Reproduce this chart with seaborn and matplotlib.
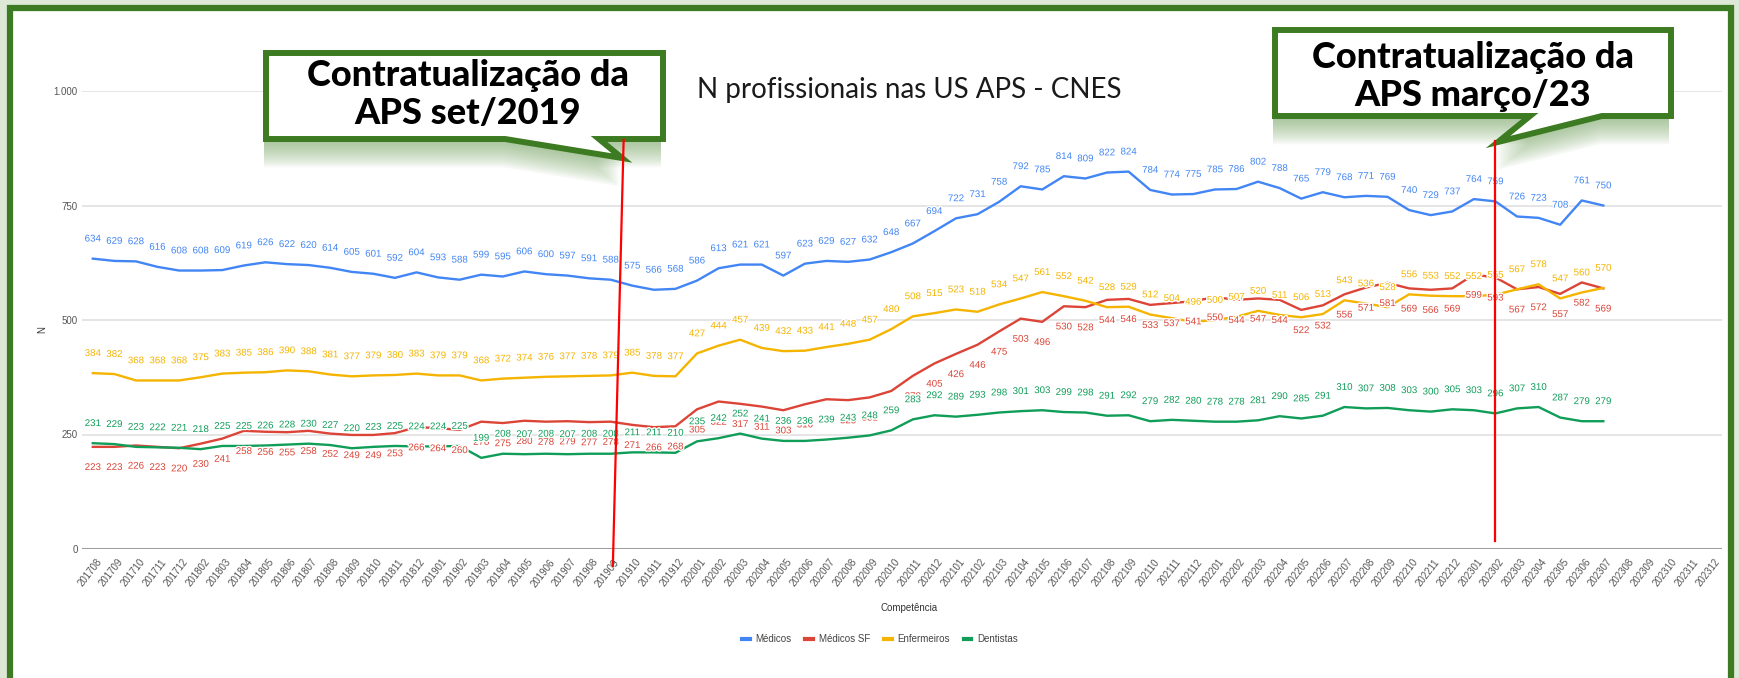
import matplotlib
matplotlib.use("Agg")
import matplotlib.pyplot as plt
import matplotlib.patheffects as pe
from matplotlib.patches import Rectangle, Polygon
from matplotlib.lines import Line2D
from matplotlib.transforms import ScaledTranslation
import pandas as pd
import seaborn as sns

# ── Data ─────────────────────────────────────────────────────────────────────
months = [
    "201708", "201709", "201710", "201711", "201712",
    "201802", "201803", "201804", "201805", "201806", "201807", "201808",
    "201809", "201810", "201811", "201812",
    "201901", "201902", "201903", "201904", "201905", "201906",
    "201907", "201908", "201909", "201910", "201911", "201912",
    "202001", "202002", "202003", "202004", "202005", "202006",
    "202007", "202008", "202009", "202010", "202011", "202012",
    "202101", "202102", "202103", "202104", "202105", "202106",
    "202107", "202108", "202109", "202110", "202111", "202112",
    "202201", "202202", "202203", "202204", "202205", "202206",
    "202207", "202208", "202209", "202210", "202211", "202212",
    "202301", "202302", "202303", "202304", "202305", "202306",
    "202307", "202308", "202309", "202310", "202311", "202312",
]

medicos = [634, 629, 628, 616, 608, 608, 609, 619, 626, 622, 620, 614,
           605, 601, 592, 604, 593, 588, 599, 595, 606, 600, 597, 591,
           588, 575, 566, 568, 586, 613, 621, 621, 597, 623, 629, 627,
           632, 648, 667, 694, 722, 731, 758, 792, 785, 814, 809, 822,
           824, 784, 774, 775, 785, 786, 802, 788, 765, 779, 768, 771,
           769, 740, 729, 737, 764, 759, 726, 723, 708, 761, 750]

medicos_sf = [223, 223, 226, 223, 220, 230, 241, 258, 256, 255, 258, 252,
              249, 249, 253, 266, 264, 260, 278, 275, 280, 278, 279, 277,
              278, 271, 266, 268, 305, 322, 317, 311, 303, 316, 327, 325,
              331, 345, 378, 405, 426, 446, 475, 503, 496, 530, 528, 544,
              546, 533, 537, 541, 550, 544, 547, 544, 522, 532, 556, 571,
              581, 569, 566, 569, 599, 593, 567, 572, 557, 582, 569]

enfermeiros = [384, 382, 368, 368, 368, 375, 383, 385, 386, 390, 388, 381,
               377, 379, 380, 383, 379, 379, 368, 372, 374, 376, 377, 378,
               379, 385, 378, 377, 427, 444, 457, 439, 432, 433, 441, 448,
               457, 480, 508, 515, 523, 518, 534, 547, 561, 552, 542, 528,
               529, 512, 504, 496, 500, 507, 520, 511, 506, 513, 543, 536,
               528, 556, 553, 552, 552, 555, 567, 578, 547, 560, 570]

dentistas = [231, 229, 223, 222, 221, 218, 225, 225, 226, 228, 230, 227,
             220, 223, 225, 224, 224, 225, 199, 208, 207, 208, 207, 208,
             208, 211, 211, 210, 235, 242, 252, 241, 236, 236, 239, 243,
             248, 259, 283, 292, 289, 293, 298, 301, 303, 299, 298, 291,
             292, 279, 282, 280, 278, 278, 281, 290, 285, 291, 310, 307,
             308, 303, 300, 305, 303, 296, 307, 310, 287, 279, 279]

series_names = ["Médicos", "Médicos SF", "Enfermeiros", "Dentistas"]
series_colors = ["#4285F4", "#DB4437", "#F4B400", "#0F9D58"]
y_ticks = [0, 250, 500, 750, 1000]
y_ticklabels = ["0", "250", "500", "750", "1.000"]
marks = ["201909", "202302"]

W, H = 1739, 678
GREEN = "#3d7b22"
plt.rcParams["font.family"] = ["Liberation Sans Narrow", "Liberation Sans", "DejaVu Sans"]

wide = pd.DataFrame({name: vals for name, vals in
                     zip(series_names, [medicos, medicos_sf, enfermeiros, dentistas])})
wide["idx"] = range(len(wide))
df = wide.melt(id_vars="idx", var_name="serie", value_name="n")

fig = plt.figure(figsize=(W / 100, H / 100), dpi=100)
fig.patch.set_facecolor("#dde8d6")

# background frame
bg = fig.add_axes([0, 0, 1, 1], zorder=0)
bg.set_xlim(0, W); bg.set_ylim(H, 0); bg.axis("off")
bg.add_patch(Rectangle((10, 8), 1721, 720, facecolor="white", edgecolor=GREEN, lw=4.5))

# ── Chart ─────────────────────────────────────────────────────────────────────
ax = fig.add_axes([82 / W, 1 - 549 / H, (1722 - 82) / W, (549 - 91) / H], zorder=1)
ax.patch.set_alpha(0)
sns.lineplot(data=df, x="idx", y="n", hue="serie", hue_order=series_names,
             palette=series_colors, linewidth=1.7, legend=False, sort=False, ax=ax, zorder=3)

for name, color in zip(series_names, series_colors):
    vals = wide[name]
    dy = -14.5 if name == "Médicos SF" else 14.5
    for i, v in enumerate(vals):
        ax.annotate(str(v), (i, v), xytext=(0, dy), textcoords="offset points",
                    ha="center", va="center", fontsize=7, color=color, zorder=5,
                    path_effects=[pe.withStroke(linewidth=2, foreground="white")])

ax.set_xlim(-0.5, len(months) - 0.5)
ax.set_ylim(0, 1000)
ax.set_yticks(y_ticks)
ax.set_yticklabels(y_ticklabels)
ax.set_xticks(range(len(months)))
ax.set_xticklabels(months, rotation=52, ha="right", va="center", rotation_mode="anchor")
ax.tick_params(axis="both", length=0, labelsize=7, labelcolor="#555555")
ax.tick_params(axis="y", pad=3)
ax.tick_params(axis="x", pad=8)
for lbl in ax.get_xticklabels():
    lbl.set_transform(lbl.get_transform() + ScaledTranslation(5 / 72, 0, fig.dpi_scale_trans))
ax.yaxis.grid(True, color="#e0e0e0", lw=1.2)
ax.xaxis.grid(False)
for s in ax.spines.values():
    s.set_visible(False)
ax.axhline(0, color="#9e9e9e", lw=2.2, zorder=2)
ax.set_xlabel(""); ax.set_ylabel("")

fig.text(909 / W, 1 - 608 / H, "Competência", ha="center", va="center", fontsize=7, color="#333333")
fig.text(42 / W, 1 - 330 / H, "N", ha="center", va="center", fontsize=7, color="#333333", rotation=90)

handles = [Line2D([0], [0], color=c, lw=3) for c in series_colors]
fig.legend(handles, series_names, loc="center", bbox_to_anchor=(880 / W, 1 - 639 / H), ncol=4,
           frameon=False, fontsize=7, handlelength=0.8, handletextpad=0.6, columnspacing=1.4,
           labelcolor="#444444")

# ── Overlay: title, callouts, red markers ────────────────────────────────────
ov = fig.add_axes([0, 0, 1, 1], zorder=2)
ov.set_xlim(0, W); ov.set_ylim(H, 0); ov.axis("off")
ov.patch.set_alpha(0)

ov.add_patch(Rectangle((664, 78), 611, 26, facecolor="white", edgecolor="none"))
ov.text(909, 90, "N profissionais nas US APS - CNES", ha="center", va="center",
        fontsize=20, fontweight="normal", family=["Lato", "DejaVu Sans"], color="#1a1a1a")


def callout(box, tail, lines, line_y, cx):
    L, T, R, B = box
    tl, tr, tip = tail
    pts = [(L, T), (R, T), (R, B), (tr, B), tip, (tl, B), (L, B)]
    # soft drop shadow
    for k in range(12):
        off = 4 + 2.2 * k
        ov.add_patch(Polygon([(x - 2, y + off) for x, y in pts], closed=True,
                             facecolor="#7aa866", edgecolor="none", alpha=0.07))
    ov.add_patch(Polygon(pts, closed=True, facecolor="white", edgecolor=GREEN,
                         lw=4.3, joinstyle="miter"))
    for txt, y in zip(lines, line_y):
        ov.text(cx, y, txt, ha="center", va="center", fontsize=26, fontweight="black",
                family=["Lato", "DejaVu Sans"], color="black")


callout((266, 53, 663, 139), (505, 599, (622, 158)),
        ["Contratualização da", "APS set/2019"], [75, 114], 468)
callout((1275, 30, 1671, 116), (1530, 1602, (1498, 142)),
        ["Contratualização da", "APS março/23"], [58, 95], 1473)

# red vertical markers, positioned from the chart's own scale
to_ov = ov.transData.inverted()
for m, (top_px, bot_frac, slant) in zip(marks, [(140, -0.037, 0.5), (141, 0.017, 0.0)]):
    i = months.index(m)
    x_bot, _ = to_ov.transform(ax.transData.transform((i + 0.1 * (slant > 0), 0)))
    y_bot = 549 - bot_frac * 458
    x_top, _ = to_ov.transform(ax.transData.transform((i + slant + 0.1 * (slant > 0), 0)))
    ov.plot([x_top, x_bot], [top_px, y_bot], color="#ff0000", lw=1.6, zorder=6)

fig.savefig("out.png", dpi=100)
